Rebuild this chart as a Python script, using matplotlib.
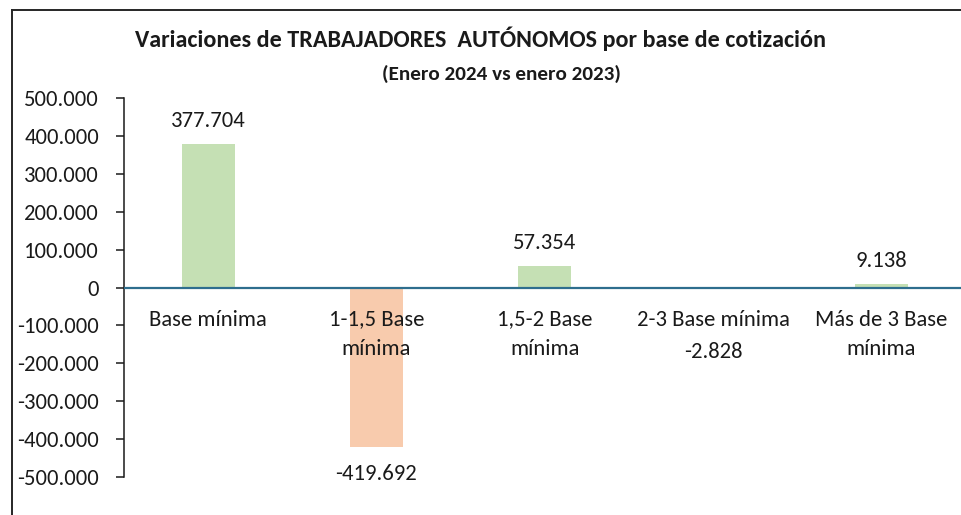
import numpy as np
import matplotlib
matplotlib.use('Agg')
import matplotlib.pyplot as plt
from matplotlib import font_manager
from matplotlib.lines import Line2D

# datos
categorias = ['Base mínima', '1-1,5 Base\nmínima', '1,5-2 Base\nmínima',
              '2-3 Base mínima', 'Más de 3 Base\nmínima']
variacion = [377704, -419692, 57354, -2828, 9138]
y_ticks = [500000, 400000, 300000, 200000, 100000, 0,
           -100000, -200000, -300000, -400000, -500000]

titulo = 'Variaciones de TRABAJADORES  AUTÓNOMOS por base de cotización'
subtitulo = '(Enero 2024 vs enero 2023)'

verde = '#C5E0B4'
naranja = '#F8CBAD'
linea_cero = '#2E6E8E'

# fuente parecida a Calibri
disponibles = {f.name for f in font_manager.fontManager.ttflist}
fuente = 'Lato'
for f in ['Carlito', 'Calibri', 'Lato']:
    if f in disponibles:
        fuente = f
        break
plt.rcParams['font.family'] = [fuente, 'DejaVu Sans']
esc = 1.07 if fuente in ('Carlito', 'Calibri') else 1.0
fs = 15.2 * esc       # ticks y etiquetas
fs_tit = 16.2 * esc   # título
fs_sub = 14.2 * esc   # subtítulo


def fmt(v):
    return f'{v:,.0f}'.replace(',', '.')


W, H = 961, 515
fig = plt.figure(figsize=(W / 100, H / 100), dpi=100)

# área de trazado (el gráfico original está recortado a la derecha)
x0, x_top, x_bot = 124, 98, 477
paso = 168.3  # px por categoría
ax = fig.add_axes([x0 / W, 1 - x_bot / H, (W - x0) / W, (x_bot - x_top) / H])

x = np.arange(len(categorias))
colores = [verde if v >= 0 else naranja for v in variacion]
ax.bar(x, variacion, width=0.315, color=colores, zorder=2)

ax.set_xlim(-0.5, -0.5 + (W - x0) / paso)
ax.set_ylim(-500000, 500000)
ax.axhline(0, color=linea_cero, lw=1.6, zorder=3)

ax.set_yticks(y_ticks)
ax.set_yticklabels([fmt(v) for v in y_ticks], fontsize=fs, color='#1a1a1a')
ax.tick_params(axis='y', direction='out', length=6, width=1.1,
               color='#1a1a1a', pad=12)
ax.set_xticks([])
for s in ['top', 'right', 'bottom']:
    ax.spines[s].set_visible(False)
ax.spines['left'].set_color('#1a1a1a')
ax.spines['left'].set_linewidth(1.1)
ax.set_facecolor('none')

# etiquetas de categoría bajo la línea de cero
for i, c in enumerate(categorias):
    ax.annotate(c, xy=(i, 0), xytext=(0, -22), textcoords='offset pixels',
                ha='center', va='top', fontsize=fs, color='#1a1a1a',
                linespacing=1.59, zorder=4)

# etiquetas de datos
y_cero = ax.transData.transform((0, 0))[1]
for i, v in enumerate(variacion):
    y_v = ax.transData.transform((0, v))[1]
    if v >= 0:
        dy = 23
    else:
        dy = -27
        # si la barra es tan corta que choca con la categoría, bajar una línea
        if y_v > y_cero - 40:
            dy = -62 - (y_cero - y_v)
    ax.annotate(fmt(v), xy=(i, v), xytext=(0, dy), textcoords='offset pixels',
                ha='center', va='center', fontsize=fs, color='#1a1a1a', zorder=4)

# títulos
fig.text(0.5, 1 - 47 / H, titulo, ha='center', va='baseline',
         fontsize=fs_tit, fontweight='bold', color='#1a1a1a')
fig.text(501 / W, 1 - 80 / H, subtitulo, ha='center', va='baseline',
         fontsize=fs_sub, fontweight='bold', color='#1a1a1a')

# marco del gráfico (recortado)
fig.add_artist(Line2D([12 / W, 12 / W], [0, 1 - 10 / H], transform=fig.transFigure,
                      color='#262626', lw=1.4))
fig.add_artist(Line2D([12 / W, 1], [1 - 10 / H, 1 - 10 / H], transform=fig.transFigure,
                      color='#262626', lw=1.4))

fig.savefig('out.png', dpi=100)
